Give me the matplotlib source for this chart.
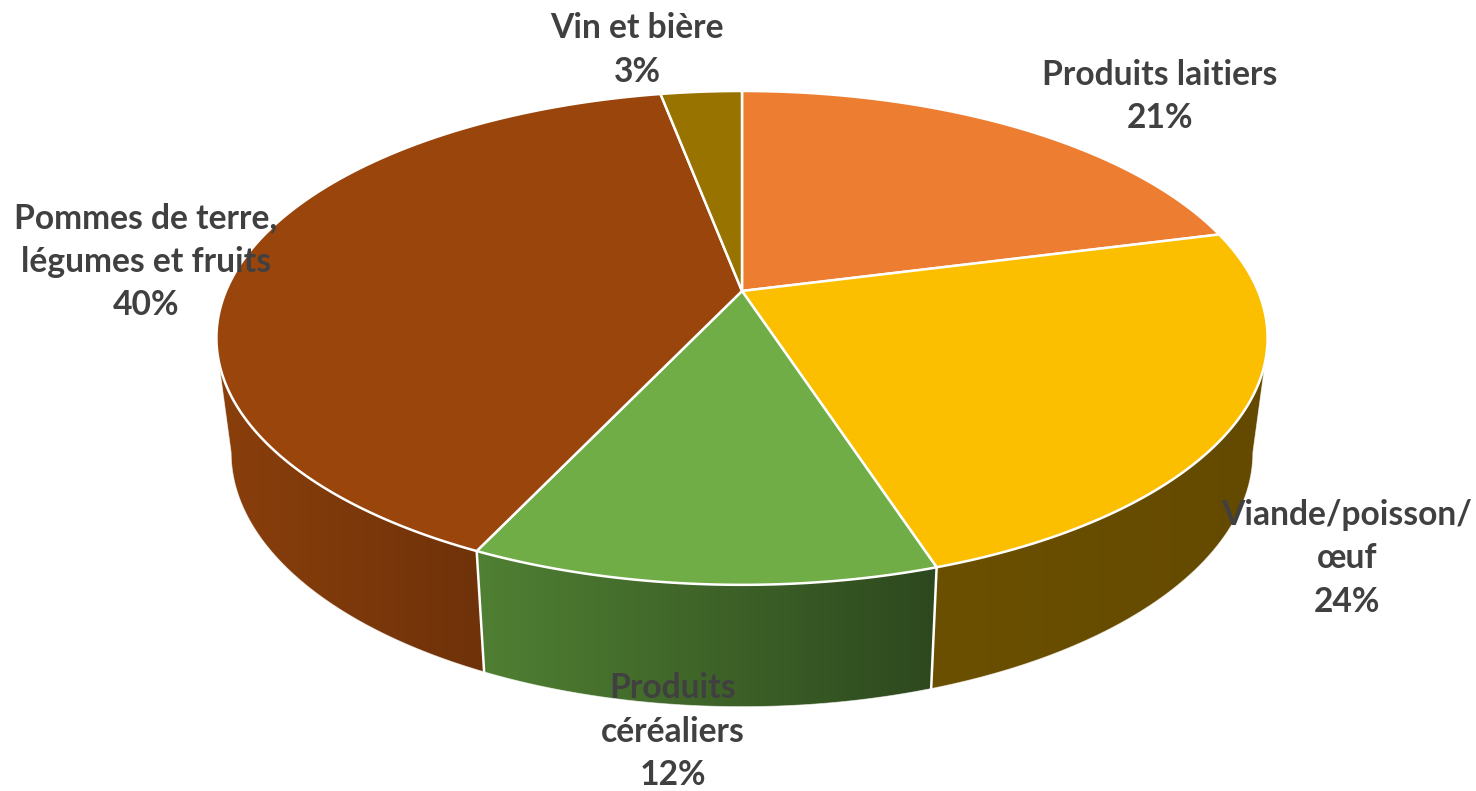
import numpy as np
import matplotlib.pyplot as plt
from matplotlib.colors import LinearSegmentedColormap
from matplotlib.patches import Polygon

plt.rcParams['font.family'] = ['Lato', 'DejaVu Sans']

# Slices, clockwise from 12 o'clock
categories = ['Produits laitiers', 'Viande/poisson/\nœuf', 'Produits\ncéréaliers',
              'Pommes de terre,\nlégumes et fruits', 'Vin et bière']
values = [21, 24, 12, 40, 3]
colors = ['#ED7D31', '#FBBF00', '#70AD47', '#9A450B', '#997300']
label_x = [1160, 1347, 673, 146, 637]
label_top = [75, 515, 688, 218, 28]

# Perspective of the disc, in image pixels
CX, CY = 742, 291
A, B, K = 516, 238, 0.19
LOW_SX, LOW_SY, LOW_CY = 0.972, 1.03, 404


def rim(theta, lower=False):
    """Point on the top or bottom rim, theta in degrees clockwise from the top."""
    t = np.radians(theta)
    w = 1 + K * np.cos(t)
    x = A * np.sin(t) / w
    y = -B * np.cos(t) / w
    if lower:
        return CX + LOW_SX * x, LOW_CY + LOW_SY * y
    return CX + x, CY + y


def wall(ax, t_start, t_end_top, t_end_low, left_col, right_col):
    """Side wall of a slice, shaded left to right."""
    xt, yt = rim(np.linspace(t_start, t_end_top, 120))
    xb, yb = rim(np.linspace(t_end_low, t_start, 120), lower=True)
    pts = np.column_stack([np.r_[xt, xb], np.r_[yt, yb]])
    poly = Polygon(pts, closed=True, fc='none', ec='none', transform=ax.transData)
    ax.add_patch(poly)
    cmap = LinearSegmentedColormap.from_list('w', [left_col, right_col])
    x0, x1 = pts[:, 0].min(), pts[:, 0].max()
    y0, y1 = pts[:, 1].min(), pts[:, 1].max()
    im = ax.imshow(np.linspace(0, 1, 256).reshape(1, -1), cmap=cmap, aspect='auto',
                   extent=(x0, x1, y1, y0), zorder=2)
    im.set_clip_path(poly)
    ax.plot(pts[:, 0], pts[:, 1], color='white', lw=0.6, alpha=0.6, zorder=2.5)


fig = plt.figure(figsize=(14.76, 7.91), dpi=100)
ax = fig.add_axes([0, 0, 1, 1])

edges = np.cumsum([0] + values) * 3.6

# side walls of the slices that face the viewer
wall(ax, edges[2], 106, 101, '#6B5000', '#644A00')
wall(ax, edges[3], edges[2], edges[2], '#508033', '#2D481E')
wall(ax, edges[3], 254, 259, '#8A3F0C', '#6F3209')
for a in edges[2:4]:
    xt, yt = rim(a)
    xb, yb = rim(a, lower=True)
    ax.plot([xt, xb], [yt, yb], color='white', lw=1.8, zorder=3)

# top face
for i, col in enumerate(colors):
    x, y = rim(np.linspace(edges[i], edges[i + 1], 150))
    ax.fill(np.r_[CX, x], np.r_[CY, y], fc=col, ec='white', lw=1.8,
            joinstyle='round', zorder=4)

# labels
for name, val, lx, ly in zip(categories, values, label_x, label_top):
    lines = name.split('\n') + [f'{val}%']
    for j, line in enumerate(lines):
        ax.text(lx, ly + j * 43.5, line, ha='center', va='center', fontsize=24.2,
                fontweight='bold', color='#404040', zorder=6)

ax.set_xlim(0, 1476)
ax.set_ylim(791, 0)
ax.axis('off')
fig.savefig('out.png', dpi=100, facecolor='white')
